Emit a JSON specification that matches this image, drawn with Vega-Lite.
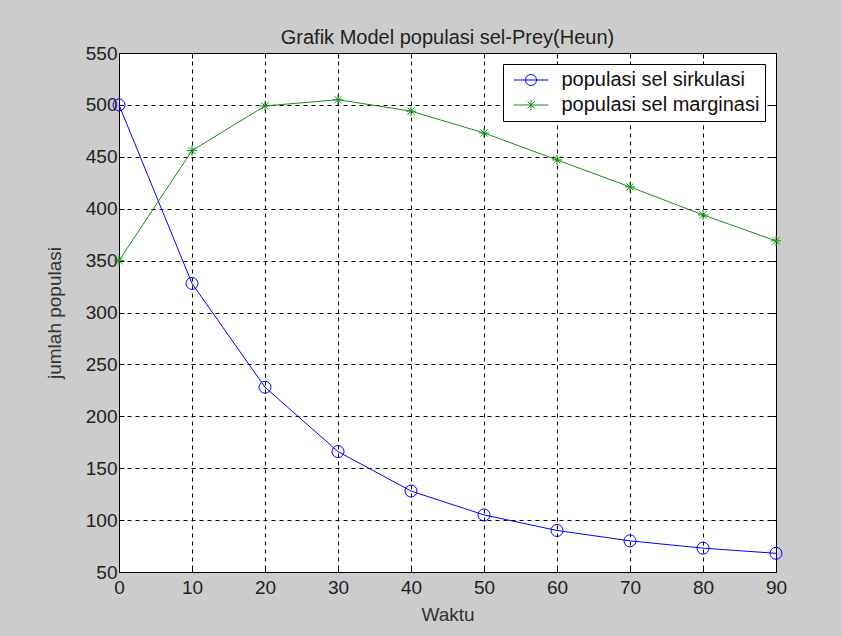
{
  "$schema": "https://vega.github.io/schema/vega-lite/v6.json",
  "width": 657,
  "height": 519,
  "autosize": {"type": "none"},
  "padding": {"left": 119, "top": 53, "right": 66, "bottom": 64},
  "background": "#cccccc",
  "config": {
    "font": "Liberation Sans",
    "view": {"stroke": "#000000", "strokeWidth": 1, "fill": "#ffffff"},
    "axis": {
      "labelFont": "Liberation Sans",
      "labelFontSize": 19,
      "labelColor": "#222222",
      "titleFont": "Liberation Sans",
      "titleFontSize": 19,
      "titleFontWeight": "normal",
      "titleColor": "#333333",
      "domainColor": "#000000",
      "tickColor": "#000000",
      "gridColor": "#000000",
      "gridOpacity": 1,
      "gridDash": [4, 4],
      "gridWidth": 1
    },
    "legend": {
      "orient": "top-right",
      "offset": 11,
      "strokeColor": "#000000",
      "fillColor": "#ffffff",
      "padding": 5.5,
      "labelFont": "Liberation Sans",
      "labelFontSize": 20,
      "labelColor": "#111111",
      "labelOffset": 32,
      "symbolSize": 400,
      "symbolStrokeWidth": 1,
      "rowPadding": 4,
      "labelLimit": 400,
      "labelExpr": "datum.label + '   '"
    }
  },
  "title": {
    "text": "Grafik Model populasi sel-Prey(Heun)",
    "font": "Liberation Sans",
    "fontSize": 20,
    "fontWeight": "normal",
    "color": "#222222",
    "anchor": "middle",
    "frame": "group",
    "baseline": "alphabetic",
    "offset": -20
  },
  "data": {
    "values": [
      {"t": 0, "v": 500, "series": "populasi sel sirkulasi"},
      {"t": 10, "v": 328, "series": "populasi sel sirkulasi"},
      {"t": 20, "v": 228, "series": "populasi sel sirkulasi"},
      {"t": 30, "v": 166, "series": "populasi sel sirkulasi"},
      {"t": 40, "v": 128, "series": "populasi sel sirkulasi"},
      {"t": 50, "v": 105, "series": "populasi sel sirkulasi"},
      {"t": 60, "v": 90, "series": "populasi sel sirkulasi"},
      {"t": 70, "v": 80, "series": "populasi sel sirkulasi"},
      {"t": 80, "v": 73, "series": "populasi sel sirkulasi"},
      {"t": 90, "v": 68, "series": "populasi sel sirkulasi"},
      {"t": 0, "v": 350, "series": "populasi sel marginasi"},
      {"t": 10, "v": 456, "series": "populasi sel marginasi"},
      {"t": 20, "v": 499, "series": "populasi sel marginasi"},
      {"t": 30, "v": 505, "series": "populasi sel marginasi"},
      {"t": 40, "v": 494, "series": "populasi sel marginasi"},
      {"t": 50, "v": 473, "series": "populasi sel marginasi"},
      {"t": 60, "v": 447, "series": "populasi sel marginasi"},
      {"t": 70, "v": 421, "series": "populasi sel marginasi"},
      {"t": 80, "v": 394, "series": "populasi sel marginasi"},
      {"t": 90, "v": 369, "series": "populasi sel marginasi"}
    ]
  },
  "resolve": {"axis": {"x": "independent", "y": "independent"}},
  "layer": [
    {
      "mark": {"type": "line", "strokeWidth": 1},
      "encoding": {
        "x": {
          "field": "t", "type": "quantitative",
          "scale": {"domain": [0, 90], "nice": false, "zero": false},
          "axis": {"title": "Waktu", "values": [0,10,20,30,40,50,60,70,80,90], "tickSize": -5, "labelPadding": 11, "titlePadding": 8, "labelFlush": false}
        },
        "y": {
          "field": "v", "type": "quantitative",
          "scale": {"domain": [50, 550], "nice": false, "zero": false},
          "axis": {"title": "jumlah populasi", "values": [50,100,150,200,250,300,350,400,450,500,550], "tickSize": -5, "labelPadding": 7, "titlePadding": 21, "labelFlush": false}
        },
        "color": {
          "field": "series", "type": "nominal",
          "scale": {"domain": ["populasi sel sirkulasi", "populasi sel marginasi"], "range": ["#0000ff", "#1a8c1a"]},
          "legend": {"title": null}
        }
      }
    },
    {
      "transform": [{"filter": "datum.series === 'populasi sel sirkulasi'"}],
      "mark": {"type": "point", "filled": false, "strokeWidth": 1, "opacity": 1, "shape": "circle", "size": 144},
      "encoding": {
        "x": {
          "field": "t", "type": "quantitative",
          "axis": {"orient": "top", "labels": false, "grid": false, "domain": false, "title": null, "values": [0,10,20,30,40,50,60,70,80,90], "tickSize": -5}
        },
        "y": {
          "field": "v", "type": "quantitative",
          "axis": {"orient": "right", "labels": false, "grid": false, "domain": false, "title": null, "values": [50,100,150,200,250,300,350,400,450,500,550], "tickSize": -5}
        },
        "color": {"field": "series", "type": "nominal", "legend": {"title": null}}
      }
    },
    {
      "transform": [{"filter": "datum.series === 'populasi sel marginasi'"}],
      "mark": {"type": "point", "filled": false, "strokeWidth": 1, "opacity": 1, "shape": "M-0.85,0H0.85M0,-0.85V0.85M-0.6,-0.6L0.6,0.6M-0.6,0.6L0.6,-0.6", "size": 144},
      "encoding": {
        "x": {"field": "t", "type": "quantitative", "axis": null},
        "y": {"field": "v", "type": "quantitative", "axis": null},
        "color": {"field": "series", "type": "nominal", "legend": {"title": null}}
      }
    },
    {
      "transform": [{"filter": "datum.t < 0"}],
      "mark": {"type": "point", "filled": false, "strokeWidth": 1, "opacity": 1},
      "encoding": {
        "x": {"field": "t", "type": "quantitative", "axis": null},
        "y": {"field": "v", "type": "quantitative", "axis": null},
        "color": {"field": "series", "type": "nominal", "legend": {"title": null}},
        "shape": {
          "field": "series", "type": "nominal",
          "scale": {"domain": ["populasi sel sirkulasi", "populasi sel marginasi"], "range": ["M-0.55,0H2.95M0.65,0A0.55,0.55,0,1,1,1.75,0A0.55,0.55,0,1,1,0.65,0", "M-0.55,0H2.95M1.2,-0.5V0.5M0.85,-0.35L1.55,0.35M0.85,0.35L1.55,-0.35"]},
          "legend": {"title": null}
        }
      }
    }
  ]
}
